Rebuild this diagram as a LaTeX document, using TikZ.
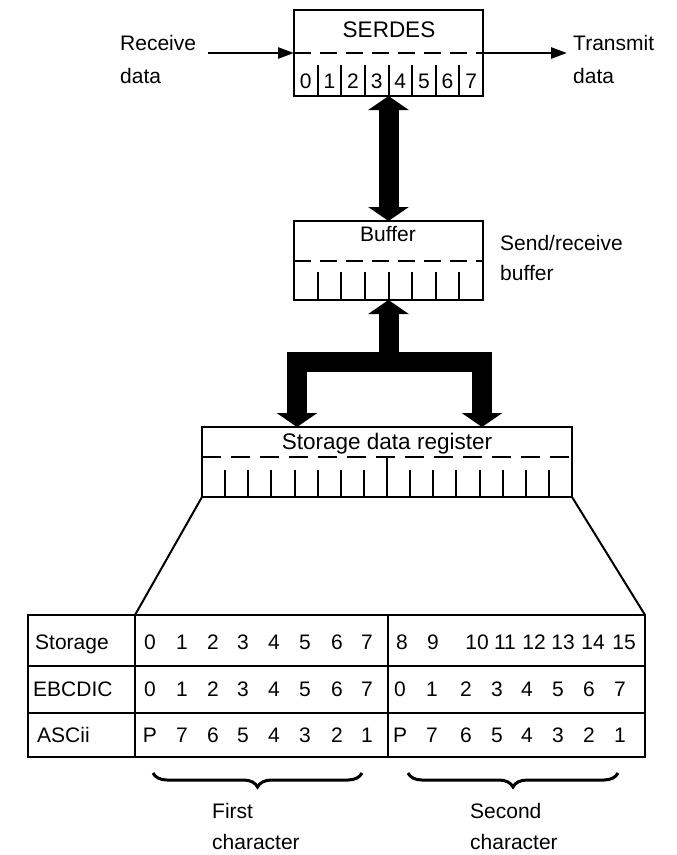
\documentclass[tikz,border=0pt]{standalone}
\usepackage{fontspec}
\setmainfont{Liberation Sans}
\usetikzlibrary{arrows.meta,decorations.pathreplacing}
\tikzset{
  bushead/.tip={Triangle[length=14bp,width=40bp]},
  wirehead/.tip={Triangle[length=16bp,width=11bp]},
}
\begin{document}
\begin{tikzpicture}[x=1bp,y=-1bp,
  txt/.style={font=\fontsize{21bp}{32bp}\selectfont, inner sep=0pt},
  bigtxt/.style={font=\fontsize{22.5bp}{32bp}\selectfont, inner sep=0pt},
  boxline/.style={line width=2bp},
  regbox/.style={draw, line width=2bp, inner sep=0pt, outer sep=0pt},
  divider/.style={line width=2bp, dash pattern=on 17bp off 9bp},
  wire/.style={line width=2.6bp, -{wirehead}},
  bus/.style={line width=20bp, line join=miter},
  charbrace/.style={line width=3bp, decorate,
    decoration={brace, amplitude=14bp, aspect=0.5}},
]
\useasboundingbox (0,0) rectangle (677,855);

% ---------- SERDES ----------
\node[regbox, minimum width=189bp, minimum height=86bp] (serdes) at (388.5,53) {};
\node[bigtxt, anchor=base] (serdesname) at (389,37) {SERDES};
\draw[divider] (serdes.west) -- (serdes.east);
\foreach \k in {1,...,7}
  \draw[boxline] ({294+23.625*\k},65) -- ({294+23.625*\k},96);
\foreach \d in {0,...,7}
  \node[txt, anchor=base] (sd\d) at ({294+11.8+23.625*\d},88) {\d};

\node[txt, anchor=north west, align=left,
      font=\fontsize{21bp}{33bp}\selectfont] (recv) at (120,35) {Receive\\data};
\node[txt, anchor=north west, align=left,
      font=\fontsize{21bp}{33bp}\selectfont] (xmit) at (573,35) {Transmit\\data};
\coordinate (rin) at (208,53);
\coordinate (tout) at (567,53);
\draw[wire] (rin) -- (serdes.west);
\draw[wire] (serdes.east) -- (tout);

% ---------- Buffer ----------
\node[regbox, minimum width=189bp, minimum height=79bp] (buffer) at (388.5,260.5) {};
\node[txt, anchor=base] (buffername) at (388,241) {Buffer};
\draw[divider] (buffer.west) -- (buffer.east);
\foreach \k in {1,...,7}
  \draw[boxline] ({294+23.625*\k},272) -- ({294+23.625*\k},300);
\node[txt, anchor=north west, align=left,
      font=\fontsize{21bp}{30bp}\selectfont] (sendrecv) at (500,235) {Send/receive\\buffer};

% two-way bus between SERDES and buffer
\draw[bus, {bushead}-{bushead}] (serdes.south) -- (buffer.north);

% ---------- Storage data register ----------
\node[regbox, minimum width=370bp, minimum height=70bp] (reg) at (387,462) {};
\node[bigtxt, anchor=base] (regname) at (387,449) {Storage data register};
\draw[divider, dash pattern=on 19bp off 10bp] (202,457) -- (572,457);
\foreach \k in {1,...,7,9,10,...,15}
  \draw[boxline] ({202+23.125*\k},470) -- ({202+23.125*\k},497);
\draw[boxline] (387,457) -- (387,497);

% bus from the buffer to both halves of the register
\coordinate (junc) at (388.5,362);
\coordinate (busL) at (297,427);
\coordinate (busR) at (482,427);
\draw[bus, {bushead}-{bushead}] (buffer.south) -- (junc) -| (busL);
\draw[bus, -{bushead}] (junc) -| (busR);

% ---------- Bit table ----------
\node[regbox, minimum width=617bp, minimum height=142bp] (tbl) at (336.5,686) {};
\coordinate (tblA) at (135,615);
\draw[boxline] (reg.south west) -- (tblA);
\draw[boxline] (reg.south east) -- (tbl.north east);
\draw[boxline] (135,615) -- (135,757);
\draw[boxline] (388,615) -- (388,757);
\draw[boxline] (28,666) -- (645,666);
\draw[boxline] (28,713) -- (645,713);

\node[txt, anchor=base west] (lstor) at (35,649) {Storage};
\node[txt, anchor=base west] (lebc) at (33,696) {EBCDIC};
\node[txt, anchor=base west] (lasc) at (37,742) {ASCii};

% first character
\foreach \x [count=\i from 0] in {150,182,213,243,274,305,337,367} {
  \node[txt, anchor=base] (s\i) at (\x,649) {\i};
  \node[txt, anchor=base] (e\i) at (\x,696) {\i};
}
\foreach \x/\t [count=\i] in {150/P,182/7,213/6,243/5,274/4,305/3,337/2,367/1}
  \node[txt, anchor=base] (a\i) at (\x,742) {\t};

% second character
\foreach \x/\t [count=\i] in {402/8,433/9,477/10,505/11,534/12,563/13,593/14,624/15}
  \node[txt, anchor=base] (ss\i) at (\x,649) {\t};
\foreach \x [count=\i from 0] in {400,432,466,497,527,558,589,620}
  \node[txt, anchor=base] (ee\i) at (\x,696) {\i};
\foreach \x/\t [count=\i] in {400/P,432/7,466/6,497/5,527/4,558/3,589/2,620/1}
  \node[txt, anchor=base] (aa\i) at (\x,742) {\t};

% ---------- Braces ----------
\coordinate (b1r) at (362,773);
\coordinate (b1l) at (153,773);
\coordinate (b2r) at (618,773);
\coordinate (b2l) at (408,773);
\draw[charbrace] (b1r) -- (b1l);
\draw[charbrace] (b2r) -- (b2l);
\node[txt, anchor=north west, align=left,
      font=\fontsize{21bp}{31bp}\selectfont] (first) at (212,803) {First\\character};
\node[txt, anchor=north west, align=left,
      font=\fontsize{21bp}{31bp}\selectfont] (second) at (470,803) {Second\\character};
\end{tikzpicture}
\end{document}
